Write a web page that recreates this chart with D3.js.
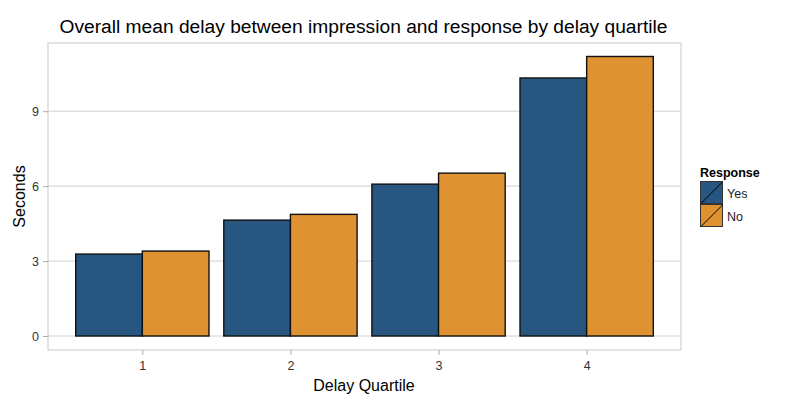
<!DOCTYPE html>
<html><head><meta charset="utf-8">
<script src="https://cdn.jsdelivr.net/npm/d3@7"></script>
<style>body{margin:0;background:#fff;} text{font-family:"Liberation Sans",Arial,Helvetica,sans-serif;}</style>
</head><body>
<svg id="c" width="800" height="400"></svg>
<script>
const quartiles = ["1","2","3","4"];
const responses = ["Yes","No"];
const yesValues = [3.28, 4.64, 6.08, 10.33];
const noValues  = [3.40, 4.87, 6.52, 11.19];
const yTicks = [0, 3, 6, 9];
const colors = ["#275780", "#df9231"];

const svg = d3.select("#c");
const L = 48, R = 681, T = 43, B = 350;

const x = d3.scaleLinear().domain([0.363, 4.637]).range([L, R]);
const y = d3.scaleLinear().domain([-0.56, 11.73]).range([B, T]);
const dodge = d3.scaleBand().domain(responses).range([-0.45, 0.45]);

svg.append("rect").attr("x", L).attr("y", T).attr("width", R-L).attr("height", B-T)
  .attr("fill", "#fff").attr("stroke", "#c8c8c8").attr("stroke-width", 1);

svg.selectAll(".grid").data(yTicks).enter().append("line")
  .attr("x1", L).attr("x2", R).attr("y1", d => y(d)).attr("y2", d => y(d))
  .attr("stroke", "#d0d0d0").attr("stroke-width", 1);

const data = [];
quartiles.forEach((q, i) => {
  data.push({q: i+1, r: "Yes", v: yesValues[i]});
  data.push({q: i+1, r: "No", v: noValues[i]});
});
svg.selectAll(".bar").data(data).enter().append("rect")
  .attr("x", d => x(d.q + dodge(d.r)))
  .attr("width", d => x(d.q + dodge(d.r) + dodge.bandwidth()) - x(d.q + dodge(d.r)))
  .attr("y", d => y(d.v))
  .attr("height", d => y(0) - y(d.v))
  .attr("fill", d => colors[responses.indexOf(d.r)])
  .attr("stroke", "#111").attr("stroke-width", 1.4);

const yAxis = d3.axisLeft(y).tickValues(yTicks).tickSize(5).tickPadding(4);
const ga = svg.append("g").attr("transform", `translate(${L},0)`).call(yAxis);
ga.select(".domain").remove();
ga.selectAll(".tick line").attr("stroke", "#aaa");
ga.selectAll(".tick text").attr("font-size", 12.5).attr("fill", "#333");

const xAxis = d3.axisBottom(x).tickValues([1,2,3,4]).tickFormat((d,i) => quartiles[i]).tickSize(5).tickPadding(6);
const gx = svg.append("g").attr("transform", `translate(0,${B})`).call(xAxis);
gx.select(".domain").remove();
gx.selectAll(".tick line").attr("stroke", "#aaa");
gx.selectAll(".tick text").attr("font-size", 12.5).attr("fill", "#333");

svg.append("text").attr("x", 363.5).attr("y", 33).attr("text-anchor", "middle")
  .attr("font-size", 19.2).attr("fill", "#000")
  .text("Overall mean delay between impression and response by delay quartile");
svg.append("text").attr("x", 364).attr("y", 391).attr("text-anchor", "middle")
  .attr("font-size", 16).attr("fill", "#000").text("Delay Quartile");
svg.append("text").attr("transform", `translate(25,${(T+B)/2}) rotate(-90)`)
  .attr("text-anchor", "middle").attr("font-size", 16).attr("fill", "#000").text("Seconds");

const lg = svg.append("g");
lg.append("text").attr("x", 700).attr("y", 177).attr("font-size", 12.5).attr("font-weight", "bold").text("Response");
responses.forEach((r, i) => {
  const yy = 181 + i*23;
  lg.append("rect").attr("x", 700.5).attr("y", yy+0.5).attr("width", 22).attr("height", 22)
    .attr("fill", colors[i]).attr("stroke", "#333").attr("stroke-width", 1);
  lg.append("line").attr("x1", 701).attr("y1", yy+22.5).attr("x2", 722.5).attr("y2", yy+1)
    .attr("stroke", "#000").attr("stroke-width", 1);
  lg.append("text").attr("x", 727).attr("y", yy+17).attr("font-size", 12.5).attr("fill", "#222").text(r);
});
</script>
</body></html>
